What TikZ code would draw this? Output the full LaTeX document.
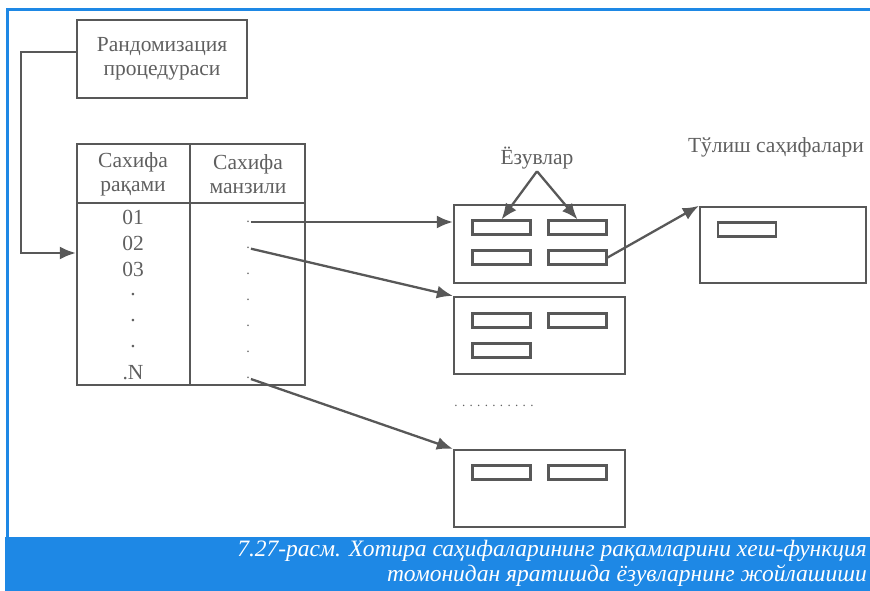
\documentclass[tikz,border=0pt]{standalone}
\usepackage{fontspec}
\setmainfont{Liberation Serif}
\usepackage{xcolor}
\usetikzlibrary{arrows.meta,positioning}

\definecolor{bandblue}{RGB}{30,136,229}
\definecolor{lineg}{RGB}{88,88,88}
\definecolor{textg}{RGB}{95,95,95}

\begin{document}
\begin{tikzpicture}[x=1pt, y=-1pt,
    box/.style={draw=lineg, line width=2.3pt, rectangle, inner sep=0pt},
    slot/.style={draw=lineg, line width=2.2pt, rectangle, minimum width=58, minimum height=14, inner sep=0pt},
    lbl/.style={text=textg, font=\fontsize{21.5}{24}\selectfont, align=center},
    arr/.style={-{Latex[length=16pt,width=13pt]}, line width=2.3pt, draw=lineg}]
    \useasboundingbox (0,0) rectangle (870,591);

    % Frame and caption band
    \draw[bandblue, line width=3pt] (7,537) -- (7,10) -- (870,10);
    \fill[bandblue] (5,537) rectangle (870,591);
    \node[anchor=north east, align=right, inner sep=0pt, text=white,
          font=\itshape\fontsize{23.5}{25}\selectfont] (cap) at (867,540)
          {7.27-расм. Хотира саҳифаларининг рақамларини хеш-функция\\томонидан яратишда ёзувларнинг жойлашиши};

    % Randomization
    \node[box, lbl, minimum width=170, minimum height=78] (rand) at (162,59) {Рандомизация\\процедураси};

    % Table
    \node[box, minimum width=228, minimum height=241] (tab) at (191,264.5) {};
    \draw[lineg, line width=2.3pt] (190,144) -- (190,385);
    \draw[lineg, line width=2.3pt] (77,203) -- (305,203);
    \node[lbl] (h1) at (133,174) {Сахифа\\рақами};
    \node[lbl] (h2) at (248,174) {Сахифа\\манзили};
    \foreach \t [count=\i] in {01,02,03,.,.,.,.N} {
        \node[lbl] (n\i) at (133,191+26*\i) {\t};
        \node[lbl, inner sep=1pt, font=\fontsize{14}{14}\selectfont] (m\i) at (248,196+26*\i) {.};
    }

    % Pages
    \node[box, minimum width=171, minimum height=78] (page1) at (539.5,244) {};
    \node[box, minimum width=171, minimum height=77] (page2) at (539.5,335.5) {};
    \node[box, minimum width=171, minimum height=77] (page3) at (539.5,488.5) {};
    \node[box, minimum width=166, minimum height=76] (over) at (783,245) {};

    % Records
    \node[slot] (s11) at (501.5,227.5) {};
    \node[slot] (s12) at (577.5,227.5) {};
    \node[slot] (s13) at (501.5,257.5) {};
    \node[slot] (s14) at (577.5,257.5) {};
    \node[slot] (s21) at (501.5,320.5) {};
    \node[slot] (s22) at (577.5,320.5) {};
    \node[slot] (s23) at (501.5,350.5) {};
    \node[slot] (s31) at (501.5,472.5) {};
    \node[slot] (s32) at (577.5,472.5) {};
    \node[slot] (s41) at (747,229.5) {};

    % Labels
    \node[lbl, inner sep=2pt] (rec) at (537,158) {Ёзувлар};
    \node[lbl] (ovl) at (776,147) {Тўлиш саҳифалари};
    \node[text=textg, font=\fontsize{13}{13}\selectfont] (gap) at (494,406) {. . . . . . . . . . .};

    % Connections
    \draw[arr] ([yshift=7pt]rand.west) -- ++(-55,0) |- (tab.west |- 0,253);
    \draw[arr] (m1) -- (m1 -| page1.west);
    \draw[arr] (m2) -- (page2.north west);
    \draw[arr] (m7) -- (page3.north west);
    \draw[arr] (rec.south) -- (s11.north);
    \draw[arr] (rec.south) -- (s12.north);
    \draw[arr] (s14.east) -- (over.north west);
\end{tikzpicture}
\end{document}
